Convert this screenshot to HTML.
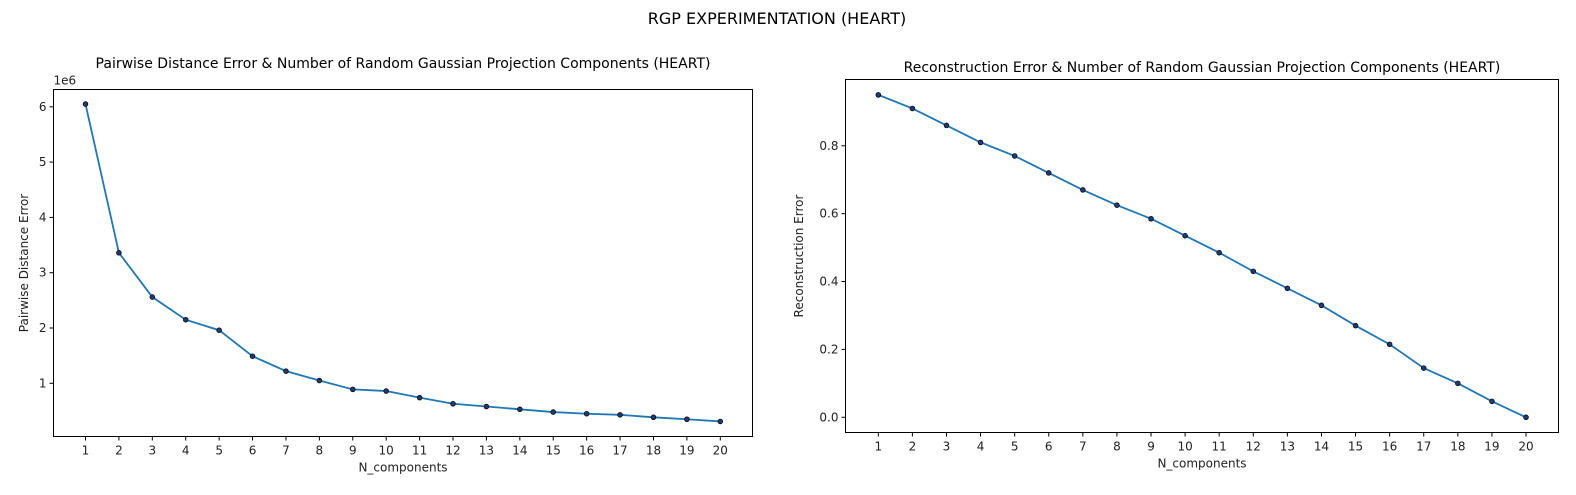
<!DOCTYPE html>
<html><head><meta charset="utf-8"><style>
body{margin:0;background:#fff;}
svg{display:block;font-family:"DejaVu Sans","Liberation Sans",sans-serif;}
</style></head><body>
<svg id="s" width="1576" height="495" xmlns="http://www.w3.org/2000/svg">
<text x="777" y="24" font-size="16" text-anchor="middle" fill="#000">RGP EXPERIMENTATION (HEART)</text>
</svg>
<script>
const categories=[1,2,3,4,5,6,7,8,9,10,11,12,13,14,15,16,17,18,19,20];
const pairwiseValues=[6.05,3.36,2.56,2.15,1.96,1.49,1.22,1.05,0.89,0.86,0.74,0.63,0.58,0.53,0.48,0.45,0.43,0.385,0.35,0.31];
const reconValues=[0.95,0.91,0.86,0.81,0.77,0.72,0.67,0.625,0.585,0.535,0.485,0.43,0.38,0.33,0.27,0.215,0.145,0.10,0.047,0.0];
const leftYTicks=[1,2,3,4,5,6];
const rightYTicks=[0.0,0.2,0.4,0.6,0.8];
const svg=document.getElementById('s');
const NS='http://www.w3.org/2000/svg';
function mk(tag,attrs,parent){const e=document.createElementNS(NS,tag);for(const k in attrs)e.setAttribute(k,attrs[k]);(parent||svg).appendChild(e);return e;}
function panel(cfg){
  const g=mk('g',{});
  
  
  const xs=c=>cfg.x1+(c-1)*cfg.dx;
  const ys=v=>cfg.y0-v*cfg.py;
  categories.forEach(c=>{
    const x=xs(c);
    mk('line',{x1:x,x2:x,y1:cfg.B,y2:cfg.B+4,stroke:'#000','stroke-width':1},g);
    const t=mk('text',{x:x,y:cfg.B+18,'font-size':12,'text-anchor':'middle',fill:'#222'},g);
    t.textContent=c;
    
    
  });
  cfg.yticks.forEach(v=>{
    const y=ys(v);
    mk('line',{x1:cfg.L-4,x2:cfg.L,y1:y,y2:y,stroke:'#000','stroke-width':1},g);
    const t=mk('text',{x:cfg.L-7,y:y+4,'font-size':12,'text-anchor':'end',fill:'#222'},g);
    t.textContent=cfg.fmt(v);
    
    
  });
  const pts=cfg.values.map((v,i)=>xs(categories[i])+','+ys(v)).join(' ');
  const pl=mk('polyline',{points:pts,fill:'none',stroke:'#1f77b4','stroke-width':1.8},g);
  
  
  cfg.values.forEach((v,i)=>{
    const c=mk('circle',{cx:xs(categories[i]),cy:ys(v),r:2.4,fill:'#1f3a70',stroke:'#000','stroke-width':0.7},g);
    
    
  });
  const fr=mk('rect',{x:cfg.L,y:cfg.T,width:cfg.R-cfg.L,height:cfg.B-cfg.T,fill:'none',stroke:'#000','stroke-width':1},g);
  
  
  const ti=mk('text',{x:(cfg.L+cfg.R)/2,y:cfg.ty,'font-size':14,'text-anchor':'middle',fill:'#000'},g);
  ti.textContent=cfg.title;
  
  
  const xl=mk('text',{x:(cfg.L+cfg.R)/2,y:cfg.B+35,'font-size':12,'text-anchor':'middle',fill:'#222'},g);
  xl.textContent='N_components';
  
  
  const yx=cfg.ylx, yy=(cfg.T+cfg.B)/2;
  const yl=mk('text',{x:yx,y:yy,'font-size':12,'text-anchor':'middle',fill:'#222',transform:`rotate(-90 ${yx} ${yy})`},g);
  yl.textContent=cfg.ylabel;
  
  
  if(cfg.offset){
    const o=mk('text',{x:cfg.L,y:cfg.T-5,'font-size':12,fill:'#222'},g);
    o.textContent=cfg.offset;
    
    
  }
}
panel({name:'pairwise-chart',L:53.5,R:752.5,T:89.5,B:436.5,x1:85.5,dx:33.41,y0:438.6,py:55.3,
  yticks:leftYTicks,fmt:v=>String(v),values:pairwiseValues,ty:68,
  title:'Pairwise Distance Error & Number of Random Gaussian Projection Components (HEART)',
  ylabel:'Pairwise Distance Error',ylx:28,offset:'1e6'});
panel({name:'reconstruction-chart',L:845.5,R:1558.5,T:79.5,B:432.5,x1:878.3,dx:34.09,y0:417.3,py:339.4,
  yticks:rightYTicks,fmt:v=>v.toFixed(1),values:reconValues,ty:72,
  title:'Reconstruction Error & Number of Random Gaussian Projection Components (HEART)',
  ylabel:'Reconstruction Error',ylx:803});
</script>
</body></html>
